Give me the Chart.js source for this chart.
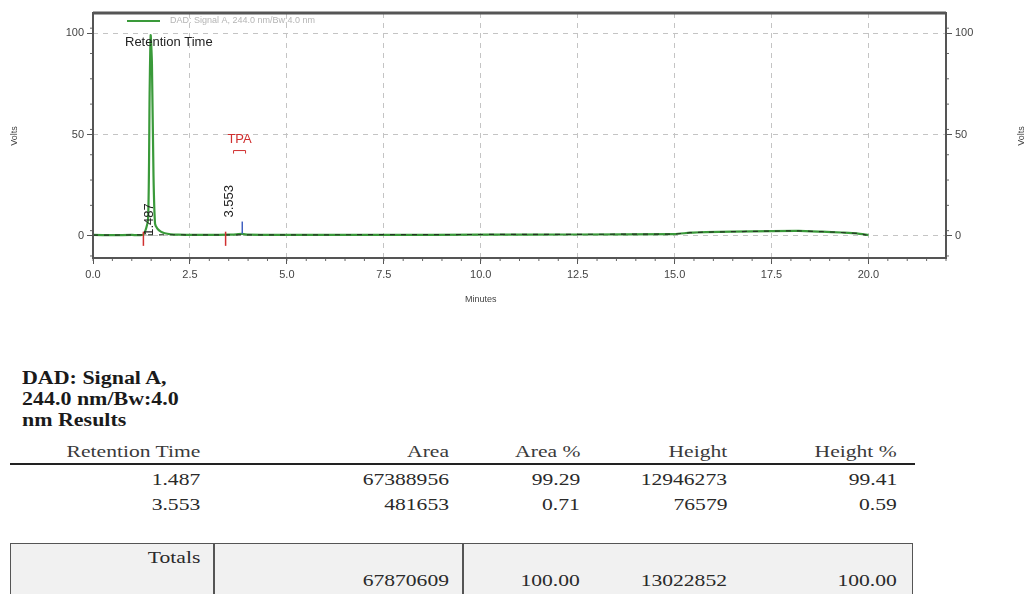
<!DOCTYPE html>
<html>
<head>
<meta charset="utf-8">
<script src="https://cdn.jsdelivr.net/npm/chart.js@4.4.0/dist/chart.umd.min.js"></script>
<style>
  body { margin:0; background:#fff; width:1033px; height:594px; overflow:hidden; position:relative;
         font-family:"Liberation Serif","Times New Roman",serif; }
  #wrap { position:absolute; left:0; top:0; width:1033px; height:320px; }
  .t { position:absolute; white-space:nowrap; color:#2a2a2a; font-size:17px; line-height:18px;
       transform:scaleX(1.27); transform-origin:right center; }
  .b { font-weight:bold; font-size:18px; line-height:21px; color:#1a1a1a; transform:scaleX(1.22); transform-origin:left center; }
  .rule { position:absolute; background:#222; }
  #totals { position:absolute; left:10px; top:543px; width:901px; height:70px; background:#f1f1f1;
            border:1.5px solid #555; }
</style>
</head>
<body>
<div id="wrap"><canvas id="chrom"></canvas></div>
<div id="table"></div>
<script>
// chromatogram trace (minutes / volts)
const times  = [0, 0.5, 1.0, 1.3, 1.42, 1.46, 1.487, 1.52, 1.56, 1.6, 1.66, 1.75, 1.85, 2.0, 2.2, 2.6, 3.0, 3.5, 3.7, 3.85, 4.0, 5.0, 7.5, 10.0, 12.5, 15.0, 15.4, 15.8, 16.5, 17.5, 18.2, 18.8, 19.3, 19.7, 20.0];
const signal = [0.4, 0.3, 0.4, 0.6, 8, 70, 99, 85, 30, 6, 3.5, 2, 1.2, 0.7, 0.5, 0.4, 0.4, 0.5, 0.7, 0.9, 0.5, 0.4, 0.4, 0.5, 0.6, 0.8, 1.5, 1.8, 2.0, 2.3, 2.4, 2.0, 1.6, 1.2, 0.3];
const baseTimes = [0, 1.3, 1.9, 3.42, 4.2, 15.0, 15.4, 15.8, 16.5, 17.5, 18.2, 18.8, 19.3, 19.7, 19.95];
const baseVals  = [0.3, 0.4, 0.5, 0.4, 0.4, 0.8, 1.5, 1.8, 2.0, 2.3, 2.4, 2.0, 1.6, 1.2, 0.3];

const peakStarts = [1.3, 3.42];      // red markers
const peakEnds   = [3.85];           // blue markers
const xTicks = [0, 2.5, 5, 7.5, 10, 12.5, 15, 17.5, 20];
const yTicks = [0, 50, 100];

// results table
const retTimes   = ['1.487', '3.553'];
const areas      = ['67388956', '481653'];
const areaPct    = ['99.29', '0.71'];
const heights    = ['12946273', '76579'];
const heightPct  = ['99.41', '0.59'];
const headers    = ['Retention Time', 'Area', 'Area %', 'Height', 'Height %'];
const totals     = ['', '67870609', '100.00', '13022852', '100.00'];

const toPts = (xs, ys) => xs.map((x, i) => ({ x: x, y: ys[i] }));
const marker = (x, y0, y1, color) => ({
  data: [{ x: x, y: y0 }, { x: x, y: y1 }], borderColor: color, borderWidth: 1.5, pointRadius: 0, order: 0
});

const frame = {
  id: 'frame',
  afterDraw(c) {
    const { ctx, chartArea: a, scales } = c;
    ctx.save();
    // minor ticks
    ctx.strokeStyle = '#666'; ctx.lineWidth = 1;
    for (let v = 0; v <= 22; v += 0.5) {
      const px = scales.x.getPixelForValue(v);
      ctx.beginPath(); ctx.moveTo(px, a.bottom); ctx.lineTo(px, a.bottom + 3); ctx.stroke();
    }
    for (let v = -10; v <= 110; v += 12.5) {
      const py = scales.y.getPixelForValue(v);
      ctx.beginPath(); ctx.moveTo(a.right, py); ctx.lineTo(a.right + 3, py); ctx.stroke();
      ctx.beginPath(); ctx.moveTo(a.left, py); ctx.lineTo(a.left - 3, py); ctx.stroke();
    }
    ctx.strokeStyle = '#555'; ctx.lineWidth = 2;
    ctx.strokeRect(a.left, a.top, a.right - a.left, a.bottom - a.top);
    ctx.lineWidth = 3;
    ctx.beginPath(); ctx.moveTo(a.left, a.top); ctx.lineTo(a.right, a.top); ctx.stroke();

    // legend
    ctx.strokeStyle = '#3a9a3a'; ctx.lineWidth = 2;
    ctx.beginPath(); ctx.moveTo(127, 21); ctx.lineTo(160, 21); ctx.stroke();
    ctx.fillStyle = '#b5b5b5'; ctx.font = '9px "Liberation Sans", Arial';
    ctx.textBaseline = 'middle'; ctx.textAlign = 'left';
    ctx.fillText('DAD: Signal A, 244.0 nm/Bw:4.0 nm', 170, 21);
    ctx.fillStyle = '#222'; ctx.font = '13px "Liberation Sans", Arial';
    ctx.fillText('Retention Time', 125, 42);

    // axis titles
    ctx.fillStyle = '#444'; ctx.font = '9px "Liberation Sans", Arial'; ctx.textAlign = 'center';
    ctx.fillText('Minutes', scales.x.getPixelForValue(10), 300);
    [15, 1022].forEach(x => {
      ctx.save(); ctx.translate(x, 136); ctx.rotate(-Math.PI / 2);
      ctx.fillText('Volts', 0, 0); ctx.restore();
    });

    // peak labels
    ctx.font = '13px "Liberation Sans", Arial'; ctx.fillStyle = '#222';
    ctx.textAlign = 'left'; ctx.textBaseline = 'bottom';
    const labelBase = [0, 9];
    retTimes.forEach((rt, i) => {
      const px = scales.x.getPixelForValue(parseFloat(rt));
      const py = scales.y.getPixelForValue(labelBase[i]);
      ctx.save(); ctx.translate(px + 5, py); ctx.rotate(-Math.PI / 2);
      ctx.fillText(rt, 0, 0); ctx.restore();
    });
    // TPA name with bracket
    const tx = scales.x.getPixelForValue(3.78), ty = scales.y.getPixelForValue(47.5);
    ctx.fillStyle = '#d03030'; ctx.textAlign = 'center'; ctx.textBaseline = 'middle';
    ctx.fillText('TPA', tx, ty);
    ctx.strokeStyle = '#d03030'; ctx.lineWidth = 1;
    ctx.beginPath();
    ctx.moveTo(tx - 6, ty + 14); ctx.lineTo(tx - 6, ty + 11); ctx.lineTo(tx + 6, ty + 11); ctx.lineTo(tx + 6, ty + 14);
    ctx.stroke();
    ctx.restore();
  }
};

const sizeFix = (w, h) => s => { if (w != null) s.width = w; if (h != null) s.height = h; };

const datasets = [
  { data: toPts(times, signal), borderColor: '#3a9a3a', borderWidth: 2.2, pointRadius: 0, tension: 0.2, order: 2 },
  { data: toPts(baseTimes, baseVals), borderColor: '#253525', borderWidth: 1.2, borderDash: [5, 6], pointRadius: 0, order: 1 }
];
peakStarts.forEach(x => datasets.push(marker(x, -5, 2, '#d03030')));
peakEnds.forEach(x => datasets.push(marker(x, 1, 7, '#4060c0')));

new Chart(document.getElementById('chrom'), {
  type: 'line',
  data: { datasets: datasets },
  options: {
    responsive: true, maintainAspectRatio: false, animation: false,
    layout: { padding: { top: 13, bottom: 0, left: 0, right: 0 } },
    plugins: { legend: { display: false }, tooltip: { enabled: false } },
    scales: {
      x: {
        type: 'linear', min: 0, max: 22, position: 'bottom',
        afterBuildTicks: s => { s.ticks = xTicks.map(v => ({ value: v })); },
        afterFit: sizeFix(null, 62),
        grid: { color: '#c4c4c4', tickColor: '#555', tickLength: 6, lineWidth: 1 },
        border: { display: false, dash: [5, 5] },
        ticks: { color: '#444', font: { family: '"Liberation Sans", Arial', size: 11 }, padding: 4,
                 maxRotation: 0, callback: v => v.toFixed(1) }
      },
      y: {
        type: 'linear', min: -11, max: 110, position: 'left',
        afterBuildTicks: s => { s.ticks = yTicks.map(v => ({ value: v })); },
        afterFit: sizeFix(93, null),
        grid: { color: '#c4c4c4', tickColor: '#555', tickLength: 6 },
        border: { display: false, dash: [5, 5] },
        ticks: { color: '#444', font: { family: '"Liberation Sans", Arial', size: 11 }, padding: 3 }
      },
      y2: {
        type: 'linear', min: -11, max: 110, position: 'right',
        afterBuildTicks: s => { s.ticks = yTicks.map(v => ({ value: v })); },
        afterFit: sizeFix(87, null),
        grid: { drawOnChartArea: false, tickColor: '#555', tickLength: 6 },
        border: { display: false },
        ticks: { color: '#444', font: { family: '"Liberation Sans", Arial', size: 11 }, padding: 3 }
      }
    }
  },
  plugins: [frame]
});

// results table
const colRight = [200, 449, 580, 727, 897];
const tbl = document.getElementById('table');
const add = (html, cls, css) => {
  const d = document.createElement('div');
  d.className = cls; d.style.cssText = css; d.textContent = html; tbl.appendChild(d);
};
['DAD: Signal A,', '244.0 nm/Bw:4.0', 'nm Results'].forEach((s, i) =>
  add(s, 't b', `left:22px;top:${368 + i * 21}px;`));
headers.forEach((h, c) => add(h, 't', `right:${1033 - colRight[c]}px;top:443px;color:#3a3a3a;`));
add('', 'rule', 'left:10px;top:463px;width:905px;height:2px;');
const cols = [retTimes, areas, areaPct, heights, heightPct];
retTimes.forEach((_, r) => cols.forEach((col, c) =>
  add(col[r], 't', `right:${1033 - colRight[c]}px;top:${471 + r * 25}px;`)));
const box = document.createElement('div'); box.id = 'totals'; tbl.appendChild(box);
[213, 462].forEach(x => add('', 'rule', `left:${x}px;top:543px;width:1.5px;height:60px;background:#555;`));
add('Totals', 't', `right:${1033 - colRight[0]}px;top:549px;`);
totals.forEach((v, c) => { if (v) add(v, 't', `right:${1033 - colRight[c]}px;top:572px;`); });
</script>
</body>
</html>
